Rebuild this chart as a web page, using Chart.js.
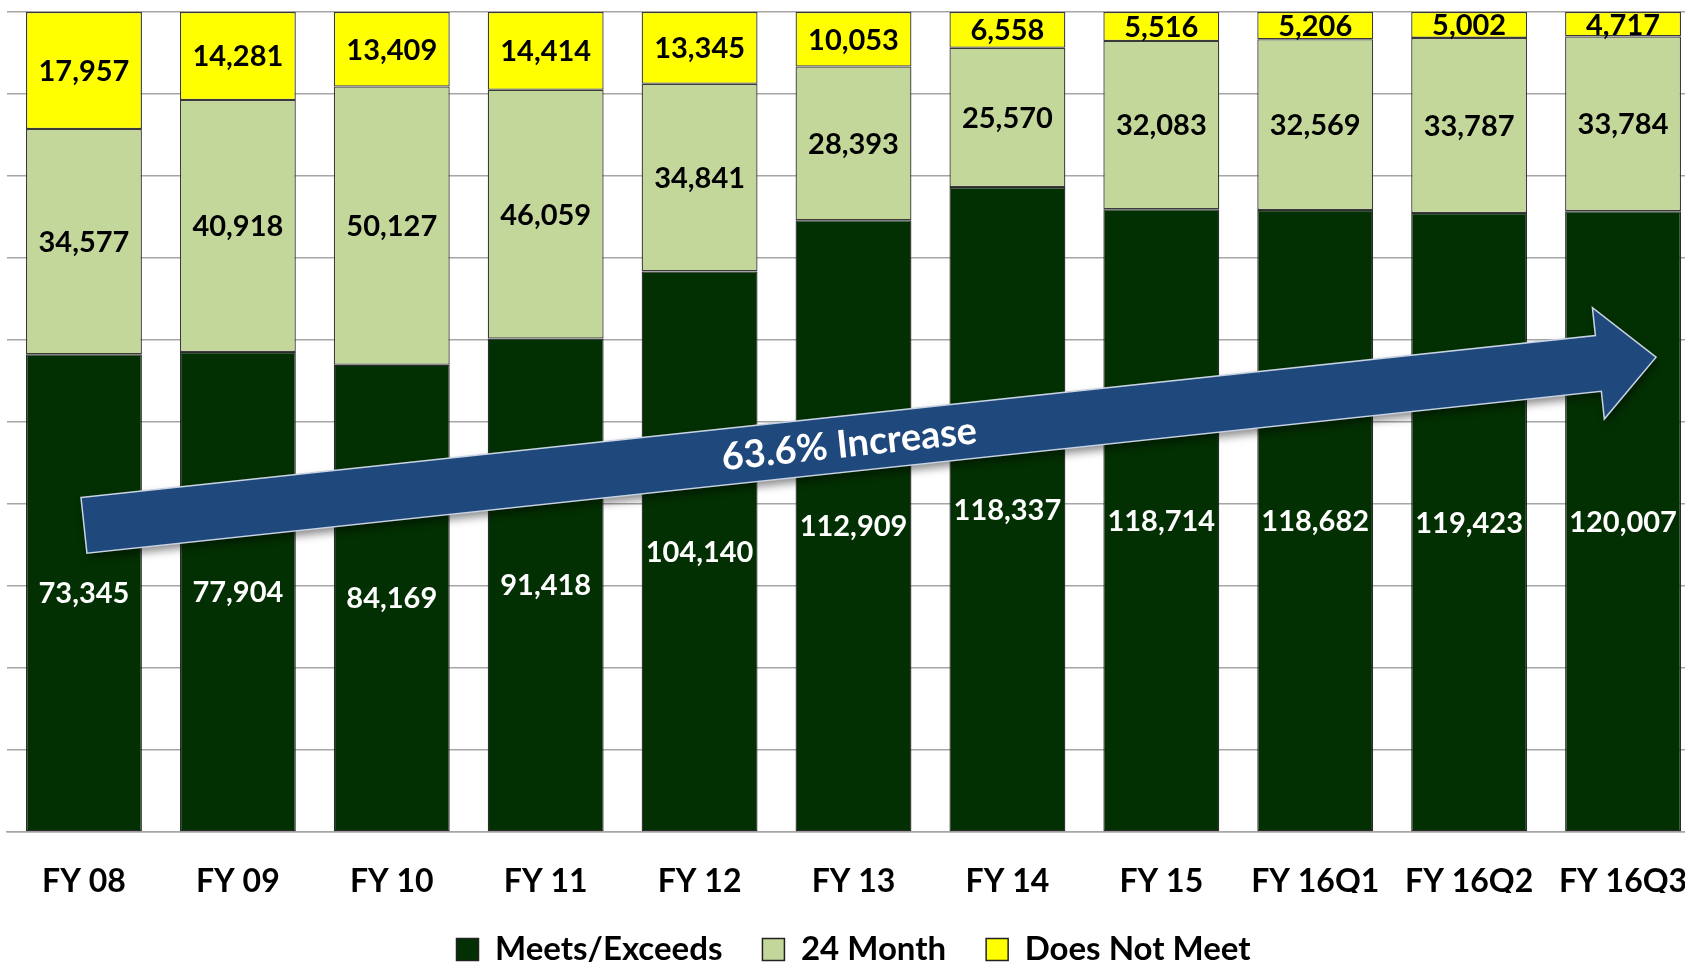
<!DOCTYPE html>
<html>
<head>
<meta charset="utf-8">
<script src="https://cdn.jsdelivr.net/npm/chart.js@4"></script>
<style>
  html, body { margin: 0; padding: 0; background: #fff; overflow: hidden; }
  #wrap { width: 1701px; height: 976px; }
</style>
</head>
<body>
<div id="wrap"><canvas id="chart" width="1701" height="976"></canvas></div>
<script>
const categories = ['FY 08', 'FY 09', 'FY 10', 'FY 11', 'FY 12', 'FY 13', 'FY 14', 'FY 15', 'FY 16Q1', 'FY 16Q2', 'FY 16Q3']
const meetsExceeds = [73345, 77904, 84169, 91418, 104140, 112909, 118337, 118714, 118682, 119423, 120007]
const month24 = [34577, 40918, 50127, 46059, 34841, 28393, 25570, 32083, 32569, 33787, 33784]
const doesNotMeet = [17957, 14281, 13409, 14414, 13345, 10053, 6558, 5516, 5206, 5002, 4717]
const arrowText = '63.6% Increase'

const totals = categories.map((c, i) => meetsExceeds[i] + month24[i] + doesNotMeet[i])
const pct = (arr) => arr.map((v, i) => v / totals[i] * 100)

const FONT = 'Lato, "Open Sans", sans-serif'

// value labels in the middle of each segment
const segmentLabels = {
  id: 'segmentLabels',
  afterDatasetsDraw (chart) {
    const ctx = chart.ctx
    ctx.save()
    ctx.font = 'bold 29px ' + FONT
    ctx.textAlign = 'center'
    ctx.textBaseline = 'middle'
    chart.data.datasets.forEach((ds, di) => {
      const meta = chart.getDatasetMeta(di)
      meta.data.forEach((bar, i) => {
        const y = (bar.y + bar.base) / 2
        ctx.fillStyle = ds.labelColor
        ctx.fillText(ds.raw[i].toLocaleString('en-US'), bar.x, y + 1)
      })
    })
    ctx.restore()
  }
}

// the big blue arrow drawn over the bars
const increaseArrow = {
  id: 'increaseArrow',
  afterDraw (chart) {
    const { ctx, scales } = chart
    const x0 = scales.x.getPixelForValue(0)
    const y0 = scales.y.getPixelForValue(37.4)
    const x1 = scales.x.getPixelForValue(10) + 33
    const y1 = scales.y.getPixelForValue(57.9)
    const ang = Math.atan2(y1 - y0, x1 - x0)
    const len = Math.hypot(x1 - x0, y1 - y0)
    const half = 28
    const headLen = 58
    const headHalf = 56

    ctx.save()
    ctx.translate(x0, y0)
    ctx.rotate(ang)
    ctx.beginPath()
    ctx.moveTo(0, -half)
    ctx.lineTo(len - headLen, -half)
    ctx.lineTo(len - headLen, -headHalf)
    ctx.lineTo(len, 0)
    ctx.lineTo(len - headLen, headHalf)
    ctx.lineTo(len - headLen, half)
    ctx.lineTo(0, half)
    ctx.closePath()
    ctx.shadowColor = 'rgba(0,0,0,0.45)'
    ctx.shadowBlur = 8
    ctx.shadowOffsetX = 2
    ctx.shadowOffsetY = 5
    ctx.fillStyle = '#1F497D'
    ctx.fill()
    ctx.shadowColor = 'transparent'
    ctx.strokeStyle = '#c8d3e3'
    ctx.lineWidth = 1.5
    ctx.stroke()

    ctx.fillStyle = '#ffffff'
    ctx.font = 'bold 38px ' + FONT
    ctx.textAlign = 'center'
    ctx.textBaseline = 'middle'
    ctx.fillText(arrowText, (len - headLen) / 2 + 8, 1)
    ctx.restore()
  }
}

new Chart(document.getElementById('chart'), {
  type: 'bar',
  data: {
    labels: categories,
    datasets: [
      {
        label: 'Meets/Exceeds',
        data: pct(meetsExceeds),
        raw: meetsExceeds,
        labelColor: '#ffffff',
        backgroundColor: '#033002',
        borderColor: '#2b2b2b'
      },
      {
        label: '24 Month',
        data: pct(month24),
        raw: month24,
        labelColor: '#000000',
        backgroundColor: '#C4D79B',
        borderColor: '#3a3a3a'
      },
      {
        label: 'Does Not Meet',
        data: pct(doesNotMeet),
        raw: doesNotMeet,
        labelColor: '#000000',
        backgroundColor: '#FFFF00',
        borderColor: '#3a3a3a'
      }
    ]
  },
  options: {
    responsive: false,
    animation: false,
    devicePixelRatio: 1,
    datasets: {
      bar: {
        categoryPercentage: 1,
        barPercentage: 0.753,
        borderWidth: 1.3,
        borderSkipped: false
      }
    },
    layout: {
      padding: { left: 7, right: 1, top: 12, bottom: 0 }
    },
    plugins: {
      tooltip: { enabled: false },
      legend: {
        position: 'bottom',
        labels: {
          color: '#000',
          font: { family: FONT, size: 33, weight: 'bold' },
          boxWidth: 22,
          boxHeight: 22,
          padding: 40,
          generateLabels (chart) {
            return chart.data.datasets.map((ds, i) => ({
              text: ds.label,
              fillStyle: ds.backgroundColor,
              strokeStyle: '#222',
              lineWidth: 1.5,
              fontColor: '#000',
              datasetIndex: i
            }))
          }
        }
      }
    },
    scales: {
      x: {
        stacked: true,
        grid: { display: false, drawTicks: true, tickLength: 26 },
        border: { display: true, color: '#a6a6a6', width: 1.5 },
        ticks: {
          color: '#000',
          padding: 4,
          maxRotation: 0,
          autoSkip: false,
          font: { family: FONT, size: 32, weight: 'bold' }
        },
        afterFit (scale) {
          scale.height = 61
        }
      },
      y: {
        stacked: true,
        min: 0,
        max: 100,
        ticks: { display: false, stepSize: 10 },
        grid: { color: '#a6a6a6', lineWidth: 1.5, drawTicks: false },
        border: { display: false }
      }
    }
  },
  plugins: [segmentLabels, increaseArrow]
})
</script>
</body>
</html>
